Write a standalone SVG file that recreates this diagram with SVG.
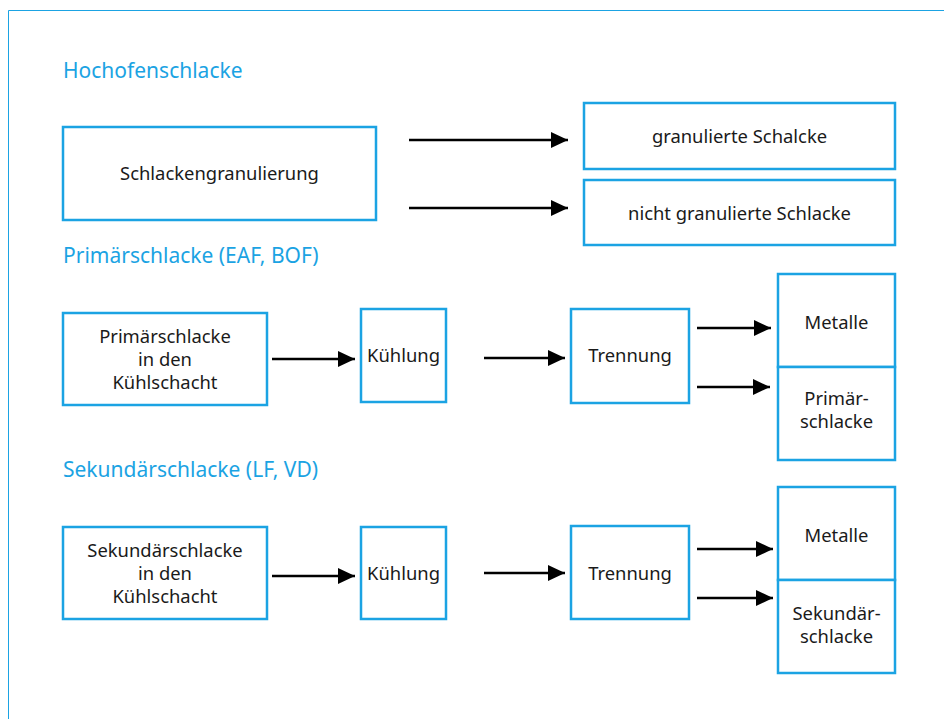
<svg xmlns="http://www.w3.org/2000/svg" width="944" height="719" viewBox="0 0 944 719">
<style>
.box{fill:#fff;stroke:#1ba3e3;stroke-width:2.5}
.t{font-family:"Noto Sans","Open Sans",sans-serif;font-size:18.4px;fill:#1a1a1a;text-anchor:middle}
.h{font-family:"Noto Sans","Open Sans",sans-serif;font-size:21px;fill:#1ba3e3}
.c line{stroke:#000;stroke-width:2.5;marker-end:url(#ah)}
</style>
<defs>
<marker id="ah" markerUnits="userSpaceOnUse" markerWidth="18" markerHeight="16" refX="17" refY="8" orient="auto">
<path d="M0,0 L17,8 L0,16 Z" fill="#000"/>
</marker>
</defs>
<rect width="944" height="719" fill="#fff"/>
<path d="M8.5,719 V10.5 H944" fill="none" stroke="#1ba3e3" stroke-width="1"/>
<text class="h" x="63" y="78">Hochofenschlacke</text>
<text class="h" x="63" y="263">Primärschlacke (EAF, BOF)</text>
<text class="h" x="63" y="477">Sekundärschlacke (LF, VD)</text>

<g id="n_granulierung"><rect class="box" x="63" y="127" width="313" height="93"/><text class="t" x="219.5" y="180">Schlackengranulierung</text></g>
<g id="n_granuliert"><rect class="box" x="584" y="103" width="311" height="66"/><text class="t" x="739.5" y="143">granulierte Schalcke</text></g>
<g id="n_nicht"><rect class="box" x="584" y="180" width="311" height="65"/><text class="t" x="739.5" y="220">nicht granulierte Schlacke</text></g>

<g id="n_p1"><rect class="box" x="63" y="313" width="204" height="92"/><text class="t" x="165" y="343">Primärschlacke</text><text class="t" x="165" y="366">in den</text><text class="t" x="165" y="389">Kühlschacht</text></g>
<g id="n_p2"><rect class="box" x="361" y="309" width="85" height="93"/><text class="t" x="403.5" y="362">Kühlung</text></g>
<g id="n_p3"><rect class="box" x="571" y="309" width="118" height="94"/><text class="t" x="630" y="362">Trennung</text></g>
<g id="n_p4"><rect class="box" x="778" y="274" width="117" height="93"/><text class="t" x="836.5" y="329">Metalle</text></g>
<g id="n_p5"><rect class="box" x="778" y="367" width="117" height="93"/><text class="t" x="836.5" y="405">Primär-</text><text class="t" x="836.5" y="428">schlacke</text></g>

<g id="n_s1"><rect class="box" x="63" y="527" width="204" height="92"/><text class="t" x="165" y="557">Sekundärschlacke</text><text class="t" x="165" y="580">in den</text><text class="t" x="165" y="603">Kühlschacht</text></g>
<g id="n_s2"><rect class="box" x="361" y="527" width="85" height="92"/><text class="t" x="403.5" y="580">Kühlung</text></g>
<g id="n_s3"><rect class="box" x="571" y="526" width="118" height="93"/><text class="t" x="630" y="580">Trennung</text></g>
<g id="n_s4"><rect class="box" x="778" y="487" width="117" height="93"/><text class="t" x="836.5" y="542">Metalle</text></g>
<g id="n_s5"><rect class="box" x="778" y="580" width="117" height="93"/><text class="t" x="836.5" y="620">Sekundär-</text><text class="t" x="836.5" y="643">schlacke</text></g>

<g class="c" id="connectors">
<line x1="409" y1="140" x2="568" y2="140"/>
<line x1="409" y1="208" x2="568" y2="208"/>
<line x1="272" y1="359" x2="355" y2="359"/>
<line x1="484" y1="358" x2="565" y2="358"/>
<line x1="697" y1="328" x2="771" y2="328"/>
<line x1="697" y1="387" x2="770" y2="387"/>
<line x1="272" y1="576" x2="355" y2="576"/>
<line x1="484" y1="573" x2="565" y2="573"/>
<line x1="697" y1="549" x2="773" y2="549"/>
<line x1="697" y1="598" x2="773" y2="598"/>
</g>
</svg>
